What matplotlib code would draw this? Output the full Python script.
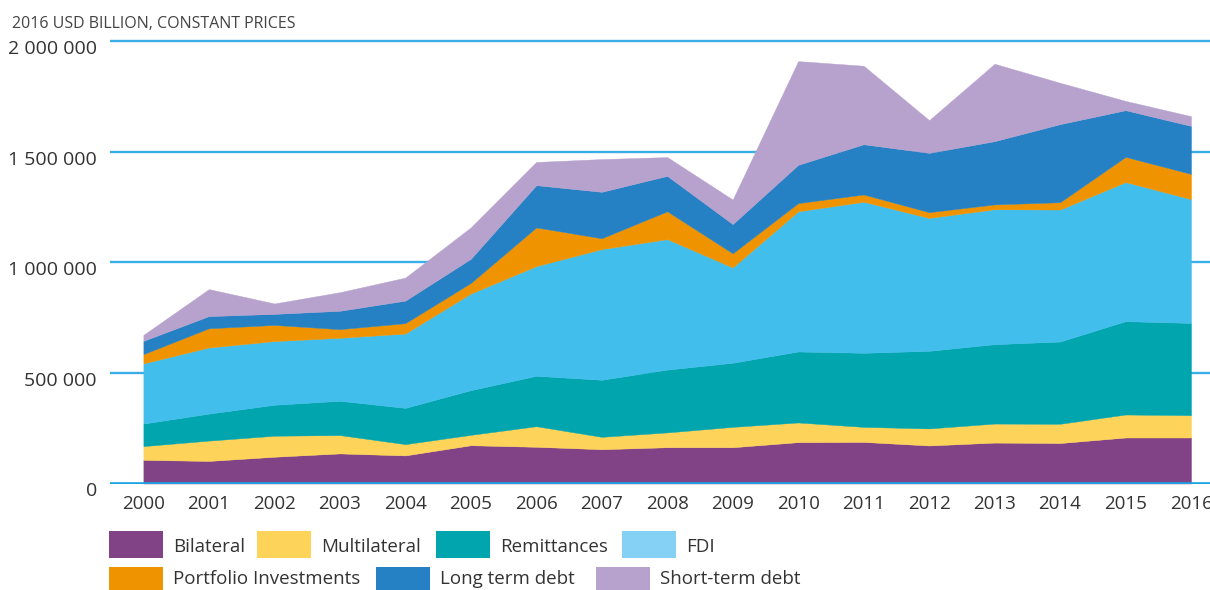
import matplotlib
matplotlib.use("Agg")
import matplotlib.pyplot as plt
from matplotlib.patches import Rectangle
from matplotlib.transforms import ScaledTranslation

plt.rcParams['font.family'] = ['Open Sans', 'DejaVu Sans']

years = list(range(2000, 2017))
bilateral = [107000, 102000, 121000, 136000, 127000, 173000, 166000, 155000, 164000,
             164000, 187000, 188000, 172000, 185000, 183000, 208000, 208000]
multilateral = [62000, 92000, 95000, 83000, 51000, 47000, 93000, 56000, 67000,
                92000, 89000, 68000, 77000, 86000, 87000, 104000, 101000]
remittances = [102000, 122000, 140000, 155000, 164000, 202000, 228000, 258000, 284000,
               290000, 321000, 335000, 351000, 359000, 372000, 422000, 417000]
fdi = [272000, 299000, 288000, 285000, 336000, 437000, 496000, 591000, 590000,
       431000, 634000, 683000, 601000, 610000, 597000, 629000, 560000]
portfolio = [42000, 87000, 73000, 39000, 47000, 48000, 175000, 49000, 126000,
             64000, 37000, 33000, 26000, 22000, 33000, 114000, 114000]
long_term_debt = [60000, 55000, 50000, 83000, 102000, 109000, 191000, 210000, 160000,
                  132000, 173000, 227000, 268000, 286000, 353000, 211000, 217000]
short_term_debt = [27000, 122000, 47000, 84000, 104000, 142000, 105000, 148000, 85000,
                   111000, 469000, 355000, 148000, 350000, 187000, 42000, 44000]

series_names = ["Bilateral", "Multilateral", "Remittances", "FDI",
                "Portfolio Investments", "Long term debt", "Short-term debt"]
series_colors = ["#824386", "#FDD35A", "#00A5AE", "#42BEED", "#F09300", "#2581C4", "#B7A1CD"]
legend_colors = ["#824386", "#FDD35A", "#00A5AE", "#85D1F5", "#F09300", "#2581C4", "#B7A1CD"]
ytick_values = [0, 500000, 1000000, 1500000, 2000000]
ytick_labels = ["0", "500 000", "1 000 000", "1 500 000", "2 000 000"]
title_text = "2016 USD BILLION, CONSTANT PRICES"

W, H = 1210, 590
fig = plt.figure(figsize=(W / 100, H / 100), dpi=100)

# axes placement (pixels)
ax_left, ax_right = 110, 1210
ax_bottom_px = 483.5
px_per_2m = 442.3
ymax = 2050000
ax_height_px = px_per_2m * ymax / 2000000
ax = fig.add_axes([ax_left / W, (H - ax_bottom_px) / H,
                   (ax_right - ax_left) / W, ax_height_px / H])

ax.stackplot(years, bilateral, multilateral, remittances, fdi, portfolio,
             long_term_debt, short_term_debt, colors=series_colors,
             edgecolor='face', linewidth=0.3, zorder=2)

grid_color = "#3AAEE6"
for v in ytick_values[1:]:
    ax.axhline(v, color=grid_color, lw=1.7, zorder=1)
ax.axhline(0, color="#1AA3E2", lw=2.6, zorder=5)

ax.set_xlim(1999.49, 2016.29)
ax.set_ylim(0, ymax)
for s in ax.spines.values():
    s.set_visible(False)

text_color = "#333333"
ax.set_xticks(years)
ax.set_xticklabels([str(y) for y in years], fontsize=13.5, color=text_color)
ax.set_yticks(ytick_values)
ax.set_yticklabels(ytick_labels, fontsize=14, color=text_color)
ax.tick_params(axis='both', length=0)
ax.tick_params(axis='y', pad=9.5)
ax.tick_params(axis='x', pad=8)
for lab in ax.get_yticklabels():
    lab.set_transform(lab.get_transform() + ScaledTranslation(0, -0.06, fig.dpi_scale_trans))

fig.text(12 / W, 1 - 28 / H, title_text, fontsize=11.5, color="#444444",
         ha='left', va='baseline')

# manual legend
patch_w, patch_h = 54, 27
rows = [(531, 552), (567, 583.5)]
legend_layout = [(0, 109, 0), (1, 257, 0), (2, 436, 0), (3, 622, 0),
                 (4, 109, 1), (5, 376, 1), (6, 596, 1)]
for idx, xpx, r in legend_layout:
    top, base = rows[r]
    fig.patches.append(Rectangle((xpx / W, 1 - (top + patch_h) / H), patch_w / W, patch_h / H,
                                 transform=fig.transFigure, facecolor=legend_colors[idx],
                                 edgecolor='none'))
    fig.text((xpx + 64) / W, 1 - base / H, series_names[idx], fontsize=13.5,
             color=text_color, ha='left', va='baseline')

fig.savefig("out.png", dpi=100)
